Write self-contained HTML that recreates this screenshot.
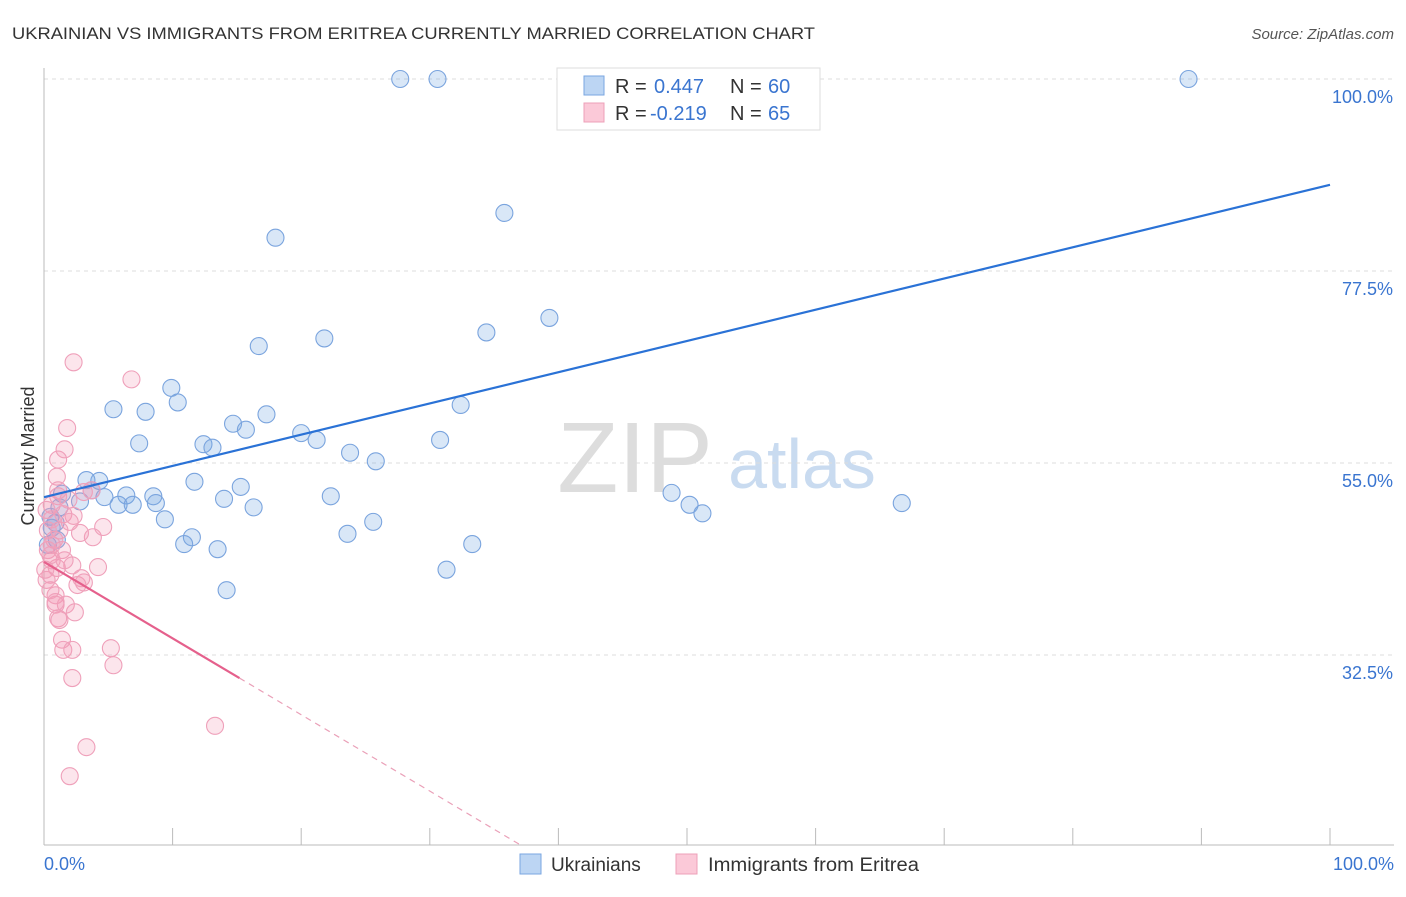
<!DOCTYPE html>
<html><head><meta charset="utf-8"><style>
body{margin:0;background:#fff;font-family:"Liberation Sans",sans-serif;}
svg text{font-family:"Liberation Sans",sans-serif;}
</style></head><body>
<svg id="chart" width="1406" height="892">
<text x="12" y="39" font-size="17" fill="#333" textLength="803" lengthAdjust="spacingAndGlyphs">UKRAINIAN VS IMMIGRANTS FROM ERITREA CURRENTLY MARRIED CORRELATION CHART</text>
<text x="1394" y="39" font-size="15" fill="#555" text-anchor="end" font-style="italic">Source: ZipAtlas.com</text>
<text x="635" y="492" font-size="100" fill="#ddd" font-family="Liberation Serif" text-anchor="middle">ZIP</text>
<text x="802" y="488" font-size="70" fill="#c9dbf0" text-anchor="middle">atlas</text>
<g id="grid"></g><g id="axes"></g><g id="pts"></g><g id="trend"></g>
<text transform="translate(34,456) rotate(-90)" font-size="18" fill="#333" text-anchor="middle">Currently Married</text>
<text x="44" y="870" font-size="18" fill="#3a75d0">0.0%</text>
<text x="1394" y="870" font-size="18" fill="#3a75d0" text-anchor="end">100.0%</text>
<g>
<rect x="557" y="68" width="263" height="62" fill="#fff" stroke="#ddd"/>
<rect x="584" y="76" width="20" height="19" fill="#bcd5f3" stroke="#7aa6e0"/>
<rect x="584" y="103" width="20" height="19" fill="#fbc9d8" stroke="#eea0b8"/>
<text x="615" y="93" font-size="20" fill="#333">R = <tspan x="654" fill="#3a75d0">0.447</tspan><tspan x="730">N = </tspan><tspan x="768" fill="#3a75d0">60</tspan></text>
<text x="615" y="120" font-size="20" fill="#333">R = <tspan x="650" fill="#3a75d0">-0.219</tspan><tspan x="730">N = </tspan><tspan x="768" fill="#3a75d0">65</tspan></text>
</g>
<g>
<rect x="520" y="854" width="21" height="20" fill="#bcd5f3" stroke="#7aa6e0"/>
<text x="551" y="871" font-size="19" fill="#333">Ukrainians</text>
<rect x="676" y="854" width="21" height="20" fill="#fbc9d8" stroke="#eea0b8"/>
<text x="708" y="871" font-size="19" fill="#333" textLength="211" lengthAdjust="spacingAndGlyphs">Immigrants from Eritrea</text>
</g>
</svg>
<script>
const yTicks=[100,77.5,55,32.5];
const xTicks=[0,10,20,30,40,50,60,70,80,90,100];
const blueX=[27.7,30.6,89.0,35.8,18.0,39.3,34.4,21.8,16.7,9.9,10.4,32.4,5.4,7.9,17.3,14.7,15.7,20.0,21.2,7.4,12.4,13.1,30.8,23.8,25.8,3.3,4.3,11.7,15.3,3.7,1.4,6.4,8.5,22.3,4.7,14.0,2.8,48.8,5.8,6.9,8.7,16.3,50.2,51.2,66.7,9.4,25.6,0.9,23.6,11.5,10.9,13.5,33.3,1.0,31.3,14.2,0.5,1.2,0.6,0.3];
const blueY=[100,100,100,84.3,81.4,72.0,70.3,69.6,68.7,63.8,62.1,61.8,61.3,61.0,60.7,59.6,58.9,58.5,57.7,57.3,57.2,56.8,57.7,56.2,55.2,53.0,52.9,52.8,52.2,51.8,51.4,51.2,51.1,51.1,51.0,50.8,50.5,51.5,50.1,50.1,50.3,49.8,50.1,49.1,50.3,48.4,48.1,48.0,46.7,46.3,45.5,44.9,45.5,46.0,42.5,40.1,48.7,49.8,47.4,45.4];
const pinkX=[2.3,6.8,1.8,1.6,1.1,1.0,1.1,0.6,1.9,1.5,2.3,2.0,1.2,3.8,4.6,2.8,0.8,1.4,2.2,4.2,1.0,0.5,2.9,2.6,3.1,0.9,0.9,1.7,2.4,1.1,1.4,1.5,2.2,5.2,5.4,2.2,13.3,3.3,2.0,0.6,0.3,0.2,0.5,0.9,1.2,0.3,0.6,0.1,0.5,1.6,3.1,3.7,1.1,0.2,0.6];
const pinkY=[66.8,64.8,59.1,56.6,55.4,53.4,51.1,50.1,50.7,49.0,48.8,48.1,47.1,46.3,47.5,46.8,46.0,44.8,43.0,42.8,42.7,41.9,41.5,40.7,41.0,39.5,38.4,38.4,37.5,36.8,34.3,33.1,33.1,33.3,31.3,29.8,24.2,21.7,18.3,43.6,44.8,41.3,40.1,38.7,36.6,47.1,45.4,42.5,44.2,43.6,51.6,51.8,51.8,49.5,48.4];
const blueTrend=[51.0,87.6];
const pinkTrend=[43.4,-0.895];
const NS='http://www.w3.org/2000/svg';
const sx=v=>44+v*12.86;
const sy=v=>79+(100-v)*192/22.5;
function mk(p,t,a){const e=document.createElementNS(NS,t);for(const k in a)e.setAttribute(k,a[k]);document.getElementById(p).appendChild(e);return e;}
yTicks.forEach(t=>{
 const l=mk('grid','line',{x1:44,x2:1394,y1:sy(t),y2:sy(t),stroke:'#ddd','stroke-dasharray':'4,4'});
 
 
 const tx=mk('grid','text',{x:1393,y:sy(t)+24,'font-size':18,fill:'#3a75d0','text-anchor':'end'});
 tx.textContent=t.toFixed(1)+'%';
 
 
});
mk('axes','line',{x1:44,x2:44,y1:68,y2:845,stroke:'#bbb'});
mk('axes','line',{x1:44,x2:1394,y1:845,y2:845,stroke:'#bbb'});
xTicks.forEach(t=>{
 const l=mk('axes','line',{x1:sx(t),x2:sx(t),y1:828,y2:845,stroke:'#bbb'});
 
 
});
blueX.forEach((x,i)=>{
 const c=mk('pts','circle',{cx:sx(x),cy:sy(blueY[i]),r:8.5,fill:'rgba(120,168,228,0.28)',stroke:'#7aa4de','stroke-width':1.1});
 
 
});
pinkX.forEach((x,i)=>{
 const c=mk('pts','circle',{cx:sx(x),cy:sy(pinkY[i]),r:8.5,fill:'rgba(242,150,178,0.25)',stroke:'#efa0ba','stroke-width':1.1});
 
 
});
const bl=mk('trend','line',{x1:sx(0),y1:sy(blueTrend[0]),x2:sx(100),y2:sy(blueTrend[1]),stroke:'#2a72d6','stroke-width':2.2});


const pf=x=>pinkTrend[0]+pinkTrend[1]*x;
const pl=mk('trend','line',{x1:sx(0),y1:sy(pf(0)),x2:sx(15.2),y2:sy(pf(15.2)),stroke:'#e5608c','stroke-width':2.2});


const pd=mk('trend','line',{x1:sx(15.2),y1:sy(pf(15.2)),x2:sx(37),y2:sy(pf(37)),stroke:'#eaa0b8','stroke-width':1.2,'stroke-dasharray':'6,5'});


</script>
</body></html>
